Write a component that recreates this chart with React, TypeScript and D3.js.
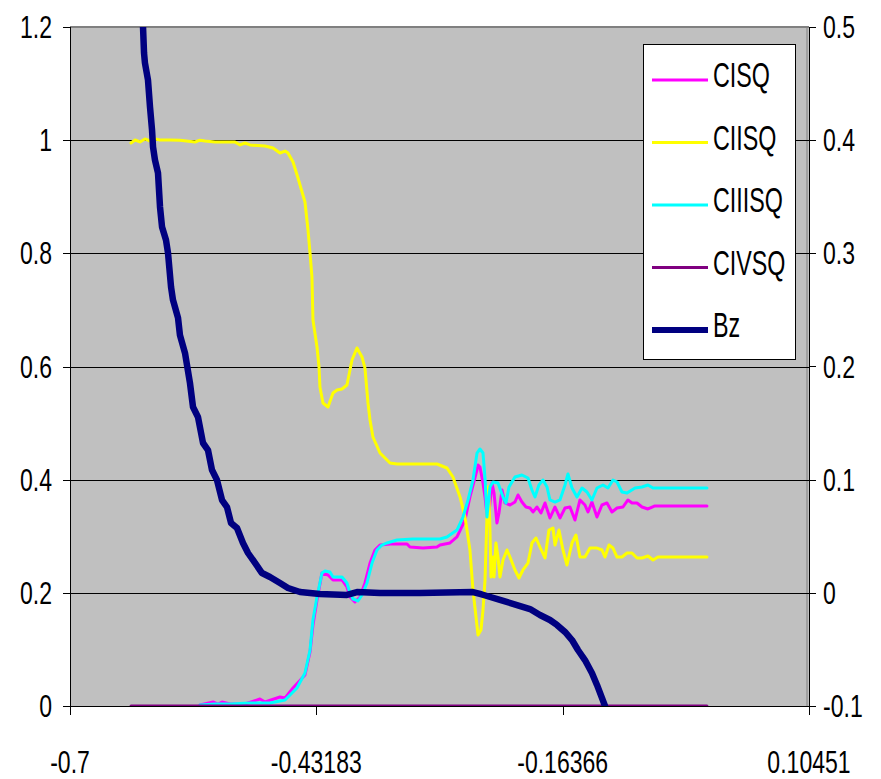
import React from "react";
import * as d3 from "d3";

// ---- axis ticks ----
const xTicks = [-0.7, -0.43183, -0.16366, 0.10451];
const xTickLabels = ["-0.7", "-0.43183", "-0.16366", "0.10451"];
const leftTicks = [0, 0.2, 0.4, 0.6, 0.8, 1, 1.2];
const leftTickLabels = ["0", "0.2", "0.4", "0.6", "0.8", "1", "1.2"];
const rightTicks = [-0.1, 0, 0.1, 0.2, 0.3, 0.4, 0.5];
const rightTickLabels = ["-0.1", "0", "0.1", "0.2", "0.3", "0.4", "0.5"];

// ---- series: [x, value] ----
const cisq: [number, number][] = [
  [-0.5585, 0.0018], [-0.5443, 0.0071], [-0.5389, 0.0035], [-0.5345, 0.0071], [-0.5258, 0.0035],
  [-0.5095, 0.0035], [-0.4932, 0.0124], [-0.4877, 0.0071], [-0.4714, 0.0159], [-0.4659, 0.0141],
  [-0.4572, 0.0318], [-0.4442, 0.0548], [-0.4387, 0.0954], [-0.4355, 0.1432], [-0.4311, 0.1873],
  [-0.4257, 0.2351], [-0.4191, 0.2315], [-0.4137, 0.2227], [-0.4039, 0.2227], [-0.3985, 0.2103],
  [-0.3952, 0.1926], [-0.3898, 0.1838], [-0.3843, 0.1926], [-0.3789, 0.2174], [-0.3734, 0.2527],
  [-0.368, 0.2757], [-0.3625, 0.2845], [-0.3516, 0.2863], [-0.3331, 0.2863], [-0.3299, 0.281],
  [-0.3157, 0.2792], [-0.3005, 0.281], [-0.2972, 0.2845], [-0.2863, 0.2881], [-0.2787, 0.2987],
  [-0.27, 0.3287], [-0.2646, 0.3694], [-0.2569, 0.4171], [-0.2558, 0.4259], [-0.2537, 0.4224],
  [-0.2504, 0.3941], [-0.2482, 0.3694], [-0.245, 0.3234], [-0.2406, 0.3941], [-0.2384, 0.3764],
  [-0.2352, 0.3234], [-0.233, 0.3411], [-0.2297, 0.3817], [-0.2265, 0.3588], [-0.221, 0.3552],
  [-0.2156, 0.3605], [-0.2123, 0.3729], [-0.208, 0.3605], [-0.2036, 0.3517], [-0.1992, 0.3499],
  [-0.196, 0.3429], [-0.1916, 0.3517], [-0.1873, 0.3411], [-0.1829, 0.3588], [-0.1775, 0.3323],
  [-0.172, 0.3517], [-0.1666, 0.3323], [-0.1611, 0.3499], [-0.1557, 0.3517], [-0.1503, 0.3287],
  [-0.1448, 0.3641], [-0.1394, 0.3552], [-0.1361, 0.3429], [-0.1318, 0.3605], [-0.1263, 0.334],
  [-0.1209, 0.3552], [-0.1154, 0.3588], [-0.11, 0.3429], [-0.1045, 0.3499], [-0.098, 0.3517],
  [-0.0926, 0.3641], [-0.0882, 0.3588], [-0.0828, 0.3588], [-0.0773, 0.3517], [-0.0708, 0.3482],
  [-0.0632, 0.3535], [-0.0066, 0.3535],
];

const ciisq: [number, number][] = [
  [-0.6336, 0.995], [-0.6292, 1.0003], [-0.6238, 0.9968], [-0.6184, 1.0021], [-0.6129, 0.9985],
  [-0.6075, 1.0021], [-0.602, 1.0003], [-0.5911, 1.0003], [-0.5803, 1.0], [-0.5639, 0.9968],
  [-0.5585, 1.0], [-0.553, 0.9985], [-0.5422, 0.9968], [-0.5204, 0.9968], [-0.5149, 0.9915],
  [-0.5095, 0.995], [-0.5041, 0.9915], [-0.4877, 0.9897], [-0.479, 0.9861], [-0.4714, 0.9773],
  [-0.4659, 0.9808], [-0.4627, 0.9773], [-0.4572, 0.9614], [-0.4518, 0.9331], [-0.4442, 0.8907],
  [-0.4409, 0.8412], [-0.4387, 0.8006], [-0.4366, 0.7582], [-0.4355, 0.6822], [-0.4311, 0.6345],
  [-0.4289, 0.5991], [-0.4279, 0.5638], [-0.4246, 0.5355], [-0.4191, 0.5284], [-0.4137, 0.5532],
  [-0.4093, 0.5585], [-0.4039, 0.5602], [-0.3985, 0.5673], [-0.393, 0.6115], [-0.3876, 0.6327],
  [-0.3821, 0.6168], [-0.3789, 0.5973], [-0.3756, 0.5355], [-0.3734, 0.5054], [-0.3702, 0.4754],
  [-0.3625, 0.4471], [-0.3516, 0.4295], [-0.344, 0.4277], [-0.3005, 0.4277], [-0.2896, 0.4206],
  [-0.2831, 0.4047], [-0.2754, 0.3694], [-0.27, 0.334], [-0.2646, 0.2757], [-0.2613, 0.205],
  [-0.258, 0.1573], [-0.2558, 0.1255], [-0.2526, 0.1343], [-0.2504, 0.1697], [-0.2482, 0.2227],
  [-0.2471, 0.281], [-0.2461, 0.334], [-0.245, 0.387], [-0.2439, 0.3694], [-0.2428, 0.311],
  [-0.2417, 0.228], [-0.2395, 0.2633], [-0.2384, 0.228], [-0.2363, 0.2881], [-0.2341, 0.2633],
  [-0.2319, 0.228], [-0.2286, 0.258], [-0.2243, 0.2757], [-0.221, 0.2633], [-0.2156, 0.2404],
  [-0.2112, 0.2262], [-0.2069, 0.2404], [-0.2014, 0.2527], [-0.1971, 0.2881], [-0.1927, 0.2969],
  [-0.1884, 0.281], [-0.1829, 0.2616], [-0.1786, 0.311], [-0.1742, 0.3146], [-0.172, 0.2845],
  [-0.1677, 0.311], [-0.1633, 0.2757], [-0.159, 0.2492], [-0.1535, 0.2881], [-0.1492, 0.3022],
  [-0.1448, 0.2633], [-0.1394, 0.2633], [-0.1339, 0.2792], [-0.1263, 0.2792], [-0.1209, 0.2757],
  [-0.1176, 0.2633], [-0.1132, 0.2845], [-0.1089, 0.2792], [-0.1045, 0.2633], [-0.0991, 0.2633],
  [-0.0936, 0.2704], [-0.0882, 0.2704], [-0.0828, 0.2616], [-0.0773, 0.2616], [-0.0708, 0.2651],
  [-0.0653, 0.258], [-0.0599, 0.2633], [-0.0066, 0.2633],
];

const ciiisq: [number, number][] = [
  [-0.5585, 0.0018], [-0.5422, 0.0035], [-0.5258, 0.0035], [-0.5041, 0.0053], [-0.4823, 0.0053],
  [-0.4659, 0.0106], [-0.4529, 0.0318], [-0.4442, 0.0583], [-0.4387, 0.099], [-0.4355, 0.152],
  [-0.4311, 0.1926], [-0.4257, 0.2351], [-0.4224, 0.2386], [-0.417, 0.2368], [-0.4137, 0.228],
  [-0.4039, 0.228], [-0.3985, 0.2174], [-0.3952, 0.1997], [-0.3919, 0.1891], [-0.3865, 0.1856],
  [-0.3821, 0.1962], [-0.3767, 0.2174], [-0.3712, 0.2527], [-0.3658, 0.2757], [-0.3604, 0.2845],
  [-0.3549, 0.2881], [-0.344, 0.2934], [-0.3266, 0.2951], [-0.2972, 0.2951], [-0.2896, 0.2987],
  [-0.2787, 0.311], [-0.2722, 0.334], [-0.2667, 0.3641], [-0.2613, 0.3994], [-0.2569, 0.4471],
  [-0.2537, 0.4542], [-0.2504, 0.4471], [-0.2482, 0.4029], [-0.2461, 0.334], [-0.2428, 0.387],
  [-0.2395, 0.3959], [-0.2341, 0.3941], [-0.2286, 0.3694], [-0.2254, 0.3588], [-0.2221, 0.387],
  [-0.2156, 0.4047], [-0.208, 0.4082], [-0.2014, 0.4029], [-0.1971, 0.3817], [-0.1938, 0.3694],
  [-0.1895, 0.3906], [-0.1851, 0.3994], [-0.1807, 0.387], [-0.1775, 0.3641], [-0.172, 0.3605],
  [-0.1666, 0.3641], [-0.1611, 0.3906], [-0.1579, 0.41], [-0.1535, 0.3853], [-0.1481, 0.3694],
  [-0.1426, 0.3853], [-0.1372, 0.3782], [-0.1318, 0.3641], [-0.1263, 0.3853], [-0.1198, 0.3906],
  [-0.1143, 0.3853], [-0.1089, 0.3994], [-0.1045, 0.3959], [-0.0991, 0.3782], [-0.0936, 0.3764],
  [-0.0849, 0.3853], [-0.0773, 0.387], [-0.0708, 0.3906], [-0.0653, 0.3853], [-0.0066, 0.3853],
];

const civsq: [number, number][] = [
  [-0.6336, 0], [-0.5, 0], [-0.4, 0], [-0.3, 0], [-0.2, 0], [-0.1, 0], [-0.0066, 0],
];

// Bz is plotted against the secondary (right) axis
const bz: [number, number][] = [
  [-0.6227, 0.5239], [-0.6205, 0.5], [-0.6194, 0.477], [-0.6184, 0.4682], [-0.6151, 0.4532],
  [-0.6129, 0.4293], [-0.6107, 0.409], [-0.6096, 0.394], [-0.6075, 0.3825], [-0.6042, 0.371],
  [-0.602, 0.3409], [-0.5998, 0.3233], [-0.5955, 0.3118], [-0.5933, 0.3003], [-0.59, 0.2703],
  [-0.5879, 0.2588], [-0.5824, 0.2429], [-0.5803, 0.2278], [-0.5748, 0.2119], [-0.5694, 0.1854],
  [-0.5661, 0.1642], [-0.5607, 0.1554], [-0.5552, 0.1324], [-0.5498, 0.1262], [-0.5454, 0.1085],
  [-0.54, 0.0997], [-0.5345, 0.082], [-0.5291, 0.0758], [-0.5247, 0.0617], [-0.5182, 0.0573],
  [-0.5117, 0.044], [-0.5062, 0.0352], [-0.4986, 0.0264], [-0.491, 0.0175], [-0.4823, 0.014],
  [-0.4714, 0.0087], [-0.4627, 0.0043], [-0.4496, 0.0007], [-0.4279, -0.001], [-0.3985, -0.0019],
  [-0.3876, 0.0007], [-0.3625, -0.0001], [-0.319, -0.0001], [-0.2613, 0.0007], [-0.2537, -0.001],
  [-0.2461, -0.0028], [-0.2319, -0.0063], [-0.2134, -0.0108], [-0.1992, -0.0143], [-0.1884, -0.0196],
  [-0.1775, -0.024], [-0.1699, -0.0284], [-0.1611, -0.0346], [-0.1535, -0.0417], [-0.147, -0.0505],
  [-0.1394, -0.0594], [-0.1318, -0.0708], [-0.1263, -0.0814], [-0.1209, -0.0929], [-0.1176, -0.1],
];

const legendItems = [
  { name: "CISQ", color: "#FF00FF", width: 3 },
  { name: "CIISQ", color: "#FFFF00", width: 3 },
  { name: "CIIISQ", color: "#00FFFF", width: 3 },
  { name: "CIVSQ", color: "#800080", width: 3 },
  { name: "Bz", color: "#000080", width: 6 },
];

const W = 881;
const H = 779;
const plot = { left: 70, right: 809, top: 27, bottom: 706 };
const FONT = "'Liberation Sans', Arial, sans-serif";

function Label(props: {
  x: number;
  y: number;
  size: number;
  sx: number;
  anchor?: "start" | "middle" | "end";
  children: React.ReactNode;
}) {
  const { x, y, size, sx, anchor = "start", children } = props;
  return (
    <text
      transform={`translate(${x},${y}) scale(${sx},1)`}
      textAnchor={anchor}
      fontFamily={FONT}
      fontSize={size}
      fill="#000"
    >
      {children}
    </text>
  );
}

export default function App() {
  const x = d3.scaleLinear().domain([-0.7, 0.10451]).range([plot.left, plot.right]);
  const yL = d3.scaleLinear().domain([0, 1.2]).range([plot.bottom, plot.top]);
  const yR = d3.scaleLinear().domain([-0.1, 0.5]).range([plot.bottom, plot.top]);

  const lineL = d3
    .line<[number, number]>()
    .x((d) => x(d[0]))
    .y((d) => yL(d[1]));
  const lineR = d3
    .line<[number, number]>()
    .x((d) => x(d[0]))
    .y((d) => yR(d[1]));

  const axisFs = 32;
  const axisSx = 0.72;

  return (
    <svg
      width={W}
      height={H}
      style={{ position: "absolute", left: 0, top: 0, background: "#fff" }}
    >
      <defs>
        <clipPath id="plotClip">
          <rect
            x={plot.left}
            y={plot.top}
            width={plot.right - plot.left}
            height={plot.bottom - plot.top}
          />
        </clipPath>
      </defs>

      {/* plot area */}
      <rect
        x={plot.left}
        y={plot.top}
        width={plot.right - plot.left}
        height={plot.bottom - plot.top}
        fill="#C0C0C0"
      />
      <line x1={plot.left} x2={plot.right} y1={plot.top} y2={plot.top} stroke="#808080" strokeWidth={2} />
      <line x1={plot.right - 2} x2={plot.right - 2} y1={plot.top} y2={plot.bottom} stroke="#808080" strokeWidth={1} />

      {/* gridlines */}
      {leftTicks.slice(1, -1).map((t) => (
        <line
          key={`g${t}`}
          x1={plot.left}
          x2={plot.right}
          y1={Math.round(yL(t)) + 0.5}
          y2={Math.round(yL(t)) + 0.5}
          stroke="#000"
          strokeWidth={1}
        />
      ))}

      {/* series */}
      <g clipPath="url(#plotClip)" fill="none" strokeLinejoin="round" strokeLinecap="round">
        <path d={lineL(cisq) || ""} stroke="#FF00FF" strokeWidth={3} />
        <path d={lineL(ciisq) || ""} stroke="#FFFF00" strokeWidth={3} />
        <path d={lineL(ciiisq) || ""} stroke="#00FFFF" strokeWidth={3} />
        <path d={lineL(civsq) || ""} stroke="#800080" strokeWidth={3} />
        <path d={lineR(bz) || ""} stroke="#000080" strokeWidth={6.5} />
      </g>

      {/* left axis */}
      <line x1={plot.left + 0.5} x2={plot.left + 0.5} y1={plot.top} y2={plot.bottom} stroke="#000" />
      {leftTicks.map((t, i) => (
        <g key={`l${t}`}>
          <line
            x1={plot.left - 7}
            x2={plot.left}
            y1={Math.round(yL(t)) + 0.5}
            y2={Math.round(yL(t)) + 0.5}
            stroke="#000"
          />
          <Label x={52} y={yL(t) + 11} size={axisFs} sx={axisSx} anchor="end">
            {leftTickLabels[i]}
          </Label>
        </g>
      ))}

      {/* right axis */}
      <line x1={plot.right + 0.5} x2={plot.right + 0.5} y1={plot.top} y2={plot.bottom} stroke="#000" />
      {rightTicks.map((t, i) => (
        <g key={`r${t}`}>
          <line
            x1={plot.right}
            x2={plot.right + 7}
            y1={Math.round(yR(t)) + 0.5}
            y2={Math.round(yR(t)) + 0.5}
            stroke="#000"
          />
          <Label x={823} y={yR(t) + 11} size={axisFs} sx={axisSx} anchor="start">
            {rightTickLabels[i]}
          </Label>
        </g>
      ))}

      {/* bottom axis */}
      <line x1={plot.left} x2={plot.right} y1={plot.bottom + 0.5} y2={plot.bottom + 0.5} stroke="#000" />
      {xTicks.map((t, i) => (
        <g key={`x${t}`}>
          <line
            x1={Math.round(x(t)) + 0.5}
            x2={Math.round(x(t)) + 0.5}
            y1={plot.bottom}
            y2={plot.bottom + 9}
            stroke="#000"
          />
          <Label x={x(t)} y={773} size={axisFs} sx={axisSx} anchor="middle">
            {xTickLabels[i]}
          </Label>
        </g>
      ))}

      {/* legend */}
      <rect x={643.5} y={44.5} width={152} height={315} fill="#fff" stroke="#000" strokeWidth={1} />
      {legendItems.map((it, i) => {
        const cy = 80 + i * 62.5;
        return (
          <g key={it.name}>
            <line x1={652} x2={708} y1={cy} y2={cy} stroke={it.color} strokeWidth={it.width} />
            <Label x={713} y={cy + 7} size={35} sx={0.665} anchor="start">
              {it.name}
            </Label>
          </g>
        );
      })}
    </svg>
  );
}
